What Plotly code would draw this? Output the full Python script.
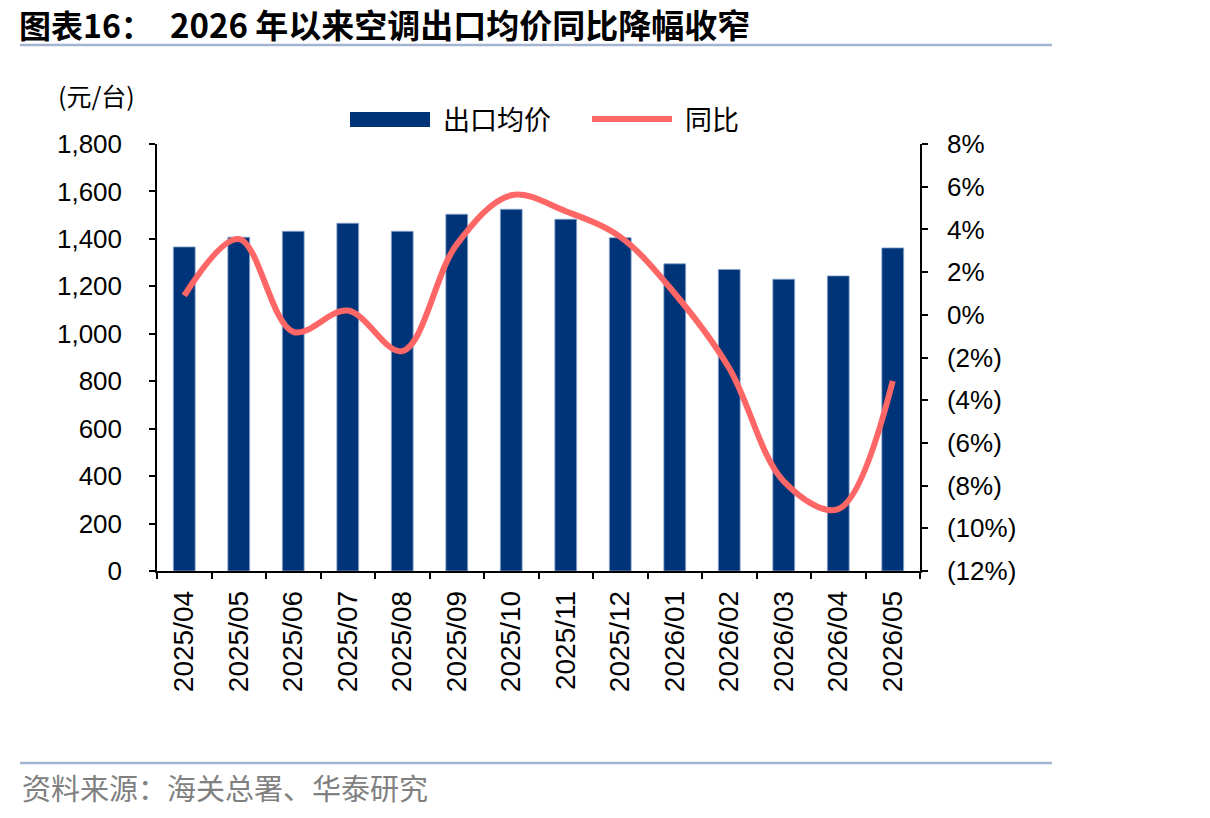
import plotly.graph_objects as go

categories = ["2025/04", "2025/05", "2025/06", "2025/07", "2025/08", "2025/09", "2025/10",
              "2025/11", "2025/12", "2026/01", "2026/02", "2026/03", "2026/04", "2026/05"]
avg_price = [1366, 1407, 1432, 1466, 1432, 1504, 1525, 1483, 1405, 1295, 1271, 1230, 1244, 1362]
yoy_pct = [0.9, 3.55, -0.8, 0.2, -1.7, 3.3, 5.6, 4.85, 3.65, 1.0, -2.5, -7.8, -9.1, -3.1]

left_ticks = list(range(0, 1801, 200))
right_ticks = list(range(-12, 9, 2))
right_ticktext = [f"{v}%" if v >= 0 else f"({-v}%)" for v in right_ticks]

W, H = 1210, 818
L, R, T, B = 157, 920, 144, 571

def px(x):
    return (x - L) / (R - L)

def py(y):
    return (B - y) / (B - T)

BAR_COLOR = "#003478"
LINE_COLOR = "#FF6666"
TICK_FONT = dict(family="Liberation Sans, Arial", size=26, color="black")
XTICK_FONT = dict(family="Liberation Sans, Arial", size=28, color="black")

fig = go.Figure()
fig.add_trace(go.Bar(x=categories, y=avg_price, name="出口均价", width=0.4,
                     marker=dict(color=BAR_COLOR, line=dict(color="#8AA4CC", width=0.8)),
                     showlegend=False))
fig.add_trace(go.Scatter(x=categories, y=yoy_pct, name="同比", yaxis="y2", mode="lines",
                         line=dict(color=LINE_COLOR, width=6, shape="spline", smoothing=1.0),
                         showlegend=False))

fig.update_layout(
    width=W, height=H, autosize=False,
    margin=dict(l=L, r=W - R, t=T, b=H - B, pad=0),
    plot_bgcolor="white", paper_bgcolor="white",
    bargap=0.6,
    xaxis=dict(type="category", range=[-0.5, len(categories) - 0.5],
               showline=True, linecolor="black", linewidth=1.5,
               ticks="outside", ticklen=6, tickcolor="black", tickwidth=1.5,
               tickson="boundaries", tickangle=-90, tickfont=XTICK_FONT,
               showgrid=False, zeroline=False, ticklabelstandoff=7),
    yaxis=dict(range=[0, 1800], tickvals=left_ticks, tickformat=",",
               showline=True, linecolor="black", linewidth=1.5,
               ticks="outside", ticklen=6, tickcolor="black", tickwidth=1.5,
               tickfont=TICK_FONT, showgrid=False, zeroline=False, ticklabelstandoff=22),
    yaxis2=dict(range=[-12, 8], tickvals=right_ticks, ticktext=right_ticktext,
                overlaying="y", side="right",
                showline=True, linecolor="black", linewidth=1.5,
                ticks="outside", ticklen=6, tickcolor="black", tickwidth=1.5,
                tickfont=TICK_FONT, showgrid=False, zeroline=False, ticklabelstandoff=14),
)

shapes = []
shapes.append(dict(type="line", xref="paper", yref="paper", x0=px(20), x1=px(1052),
                   y0=py(45), y1=py(45), line=dict(color="#A2B4CF", width=2.5)))
shapes.append(dict(type="line", xref="paper", yref="paper", x0=px(20), x1=px(1052),
                   y0=py(763), y1=py(763), line=dict(color="#A2B4CF", width=2.5)))
shapes.append(dict(type="rect", xref="paper", yref="paper", x0=px(350), x1=px(430),
                   y0=py(127), y1=py(112), fillcolor=BAR_COLOR, line=dict(width=0)))
shapes.append(dict(type="line", xref="paper", yref="paper", x0=px(592), x1=px(672),
                   y0=py(119), y1=py(119), line=dict(color=LINE_COLOR, width=6)))
fig.update_layout(shapes=shapes)

annotations = [
    dict(text="<b>图表16：</b>", xref="paper", yref="paper",
         x=px(17), y=py(24), xanchor="left", yanchor="middle", showarrow=False,
         font=dict(family="Noto Sans CJK SC", size=32, color="black")),
    dict(text="<b>2026 年以来空调出口均价同比降幅收窄</b>", xref="paper", yref="paper",
         x=px(168), y=py(24), xanchor="left", yanchor="middle", showarrow=False,
         font=dict(family="Noto Sans CJK SC", size=33, color="black")),
    dict(text="(元/台)", xref="paper", yref="paper", x=px(56), y=py(95),
         xanchor="left", yanchor="middle", showarrow=False,
         font=dict(family="Noto Sans CJK SC, Liberation Sans", size=25, color="black")),
    dict(text="出口均价", xref="paper", yref="paper", x=px(441), y=py(119),
         xanchor="left", yanchor="middle", showarrow=False,
         font=dict(family="Noto Sans CJK SC", size=27, color="black")),
    dict(text="同比", xref="paper", yref="paper", x=px(683), y=py(119),
         xanchor="left", yanchor="middle", showarrow=False,
         font=dict(family="Noto Sans CJK SC", size=27, color="black")),
    dict(text="资料来源：海关总署、华泰研究", xref="paper", yref="paper", x=px(20), y=py(787),
         xanchor="left", yanchor="middle", showarrow=False,
         font=dict(family="Noto Sans CJK SC", size=29, color="#808080")),
]
fig.update_layout(annotations=annotations)

fig.write_html("out.html")
